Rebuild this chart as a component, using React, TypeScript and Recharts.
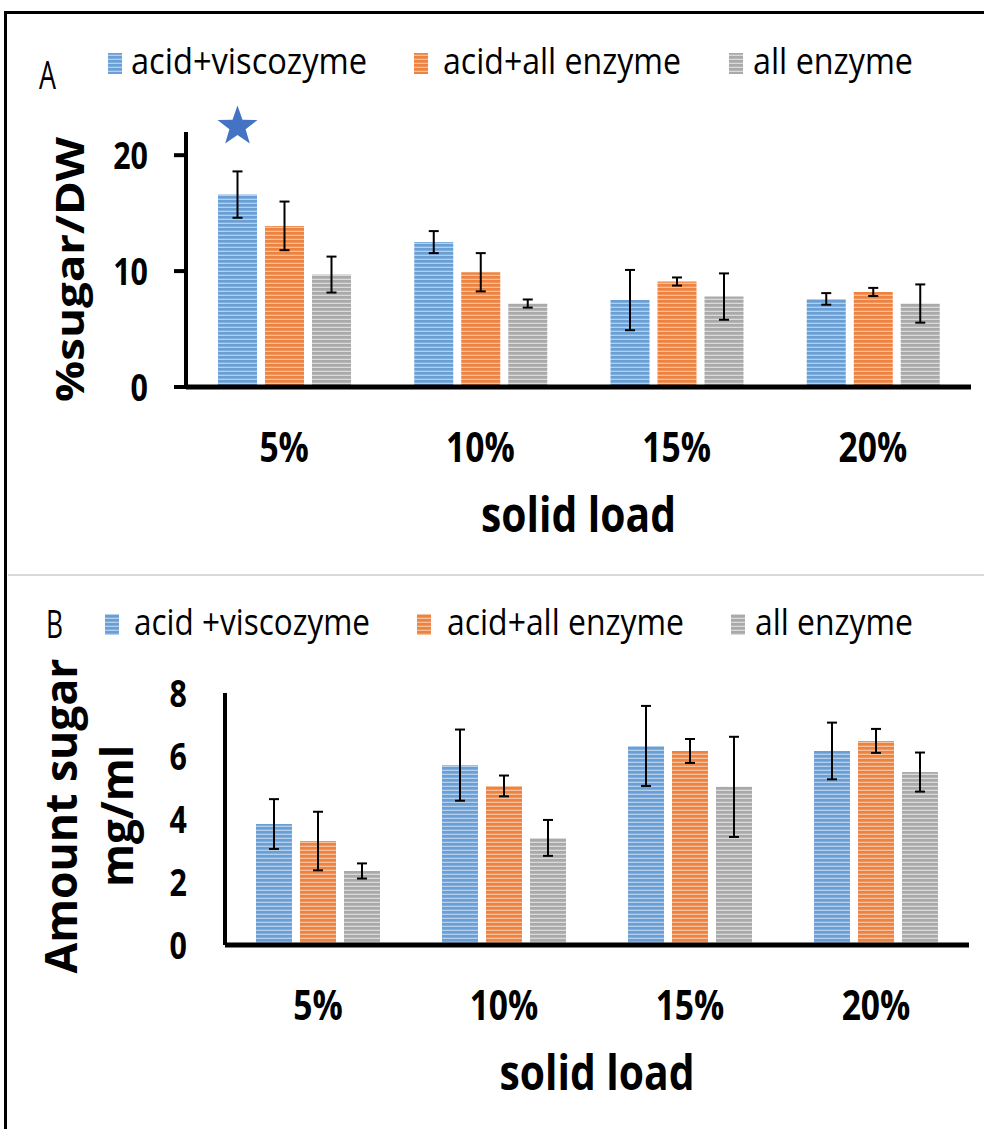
import { BarChart, Bar, XAxis, YAxis, ErrorBar, Legend, LabelList, Label } from "recharts";

const categories = ["5%", "10%", "15%", "20%"];

// panel A: % sugar / DW
const namesA = ["acid+viscozyme", "acid+all enzyme", "all enzyme"];
const viscozymeA = [16.6, 12.5, 7.5, 7.6];
const viscozymeErrA = [2.0, 0.95, 2.6, 0.5];
const acidAllA = [13.9, 9.9, 9.1, 8.2];
const acidAllErrA = [2.1, 1.65, 0.35, 0.35];
const allEnzymeA = [9.7, 7.2, 7.8, 7.2];
const allEnzymeErrA = [1.55, 0.35, 2.0, 1.65];
const starFlagsA = [1, 0, 0, 0];
const ticksA = [0, 10, 20];

// panel B: amount sugar mg/ml
const namesB = ["acid +viscozyme", "acid+all enzyme", "all enzyme"];
const viscozymeB = [3.84, 5.71, 6.32, 6.16];
const viscozymeErrB = [0.79, 1.13, 1.27, 0.9];
const acidAllB = [3.3, 5.05, 6.16, 6.48];
const acidAllErrB = [0.93, 0.33, 0.38, 0.38];
const allEnzymeB = [2.35, 3.4, 5.02, 5.49];
const allEnzymeErrB = [0.24, 0.57, 1.59, 0.62];
const ticksB = [0, 2, 4, 6, 8];

const FONT = "'Open Sans', 'DejaVu Sans', sans-serif";

const fills = [
  { id: "stripeBlue", base: "#6A9FD6", light: "#B3D1EE" },
  { id: "stripeOrange", base: "#EE8240", light: "#F7C29B" },
  { id: "stripeGray", base: "#A9A9A9", light: "#DADADA" },
];

const dataA = categories.map((c, i) => ({
  cat: c,
  s1: viscozymeA[i],
  e1: viscozymeErrA[i],
  s2: acidAllA[i],
  e2: acidAllErrA[i],
  s3: allEnzymeA[i],
  e3: allEnzymeErrA[i],
  star: starFlagsA[i],
}));

const dataB = categories.map((c, i) => ({
  cat: c,
  s1: viscozymeB[i],
  e1: viscozymeErrB[i],
  s2: acidAllB[i],
  e2: acidAllErrB[i],
  s3: allEnzymeB[i],
  e3: allEnzymeErrB[i],
}));

function XTick(props: any) {
  const { x, y, payload } = props;
  return (
    <g transform={`translate(${x},${y})`}>
      <text transform="scale(0.8,1)" textAnchor="middle" dy="0.71em" fontSize={42} fontWeight={700} fill="#000" fontFamily={FONT}>
        {payload.value}
      </text>
    </g>
  );
}

function YTick(props: any) {
  const { x, y, payload } = props;
  return (
    <g transform={`translate(${x},${y})`}>
      <text transform="scale(0.8,1)" textAnchor="end" dy="0.36em" fontSize={38} fontWeight={700} fill="#000" fontFamily={FONT}>
        {payload.value}
      </text>
    </g>
  );
}

function renderStar(props: any) {
  const { x, y, width, value } = props;
  if (!value) return null;
  const cx = Number(x) + Number(width) / 2;
  const cy = Number(y) - 68;
  const pts: string[] = [];
  for (let k = 0; k < 10; k++) {
    const r = k % 2 === 0 ? 21 : 8.5;
    const a = -Math.PI / 2 + (k * Math.PI) / 5;
    pts.push(`${cx + r * Math.cos(a)},${cy + r * Math.sin(a)}`);
  }
  return <polygon points={pts.join(" ")} fill="#4472C4" />;
}

const yTitle = (lines: { text: string; x: number; len: number; size: number }[], shift: number) => (props: any) => {
  const vb = props.viewBox || { y: 0, height: 0 };
  const cy = vb.y + vb.height / 2 + shift;
  return (
    <g>
      {lines.map((l) => (
        <text
          key={l.text}
          transform={`translate(${l.x},${cy}) rotate(-90)`}
          textAnchor="middle"
          fontSize={l.size}
          fontWeight={700}
          fontFamily={FONT}
          fill="#000"
          textLength={l.len}
          lengthAdjust="spacingAndGlyphs"
        >
          {l.text}
        </text>
      ))}
    </g>
  );
};

const xTitle = (props: any) => {
  const vb = props.viewBox || { x: 0, y: 0, width: 0 };
  return (
    <text
      x={vb.x + vb.width / 2}
      y={vb.y + 145}
      textAnchor="middle"
      fontSize={48}
      fontWeight={700}
      fontFamily={FONT}
      fill="#000"
      textLength={195}
      lengthAdjust="spacingAndGlyphs"
    >
      solid load
    </text>
  );
};

const legendRow = (
  panel: string,
  panelX: number,
  panelY: number,
  names: string[],
  markerX: number[],
  textX: number[],
  textLen: number[],
  baseline: number
) => () => (
  <svg width={984} height={110} style={{ display: "block" }}>
    <text x={panelX} y={panelY} fontSize={38} fontFamily={FONT} fill="#000" textLength={17} lengthAdjust="spacingAndGlyphs">
      {panel}
    </text>
    {names.map((n, i) => (
      <g key={n}>
        <rect x={markerX[i]} y={baseline - 21} width={14} height={21} fill={`url(#${fills[i].id})`} />
        <text
          x={textX[i]}
          y={baseline}
          fontSize={37}
          fontFamily={FONT}
          fill="#000"
          textLength={textLen[i]}
          lengthAdjust="spacingAndGlyphs"
        >
          {n}
        </text>
      </g>
    ))}
  </svg>
);

export default function App() {
  return (
    <div
      style={{
        position: "absolute",
        left: 0,
        top: 0,
        width: 984,
        height: 1129,
        overflow: "hidden",
        background: "#fff",
      }}
    >
      <svg width={0} height={0} style={{ position: "absolute" }}>
        <defs>
          {fills.map((f) => (
            <pattern key={f.id} id={f.id} width={8} height={4} patternUnits="userSpaceOnUse">
              <rect width={8} height={4} fill={f.light} />
              <rect width={8} height={2.7} fill={f.base} />
            </pattern>
          ))}
        </defs>
      </svg>

      {/* outer frame */}
      <div
        style={{
          position: "absolute",
          left: 4,
          top: 11,
          width: 1000,
          height: 1200,
          borderTop: "3px solid #000",
          borderLeft: "3px solid #000",
        }}
      />
      {/* separator */}
      <div style={{ position: "absolute", left: 8, top: 574, width: 980, height: 2, background: "#d9d9d9" }} />

      <div style={{ position: "absolute", left: 0, top: 0 }}>
        <BarChart
          width={984}
          height={575}
          data={dataA}
          margin={{ top: 132, right: 13, bottom: 38, left: 0 }}
          barSize={39}
          barGap={8}
        >
          <XAxis
            dataKey="cat"
            height={150}
            axisLine={{ stroke: "#000", strokeWidth: 5 }}
            tickLine={false}
            tickSize={0}
            tickMargin={45}
            tick={<XTick />}
          >
            <Label content={xTitle} />
          </XAxis>
          <YAxis
            width={186}
            domain={[0, 22]}
            ticks={ticksA}
            interval={0}
            axisLine={{ stroke: "#000", strokeWidth: 4 }}
            tickLine={{ stroke: "#000", strokeWidth: 4 }}
            tickSize={12}
            tickMargin={26}
            tick={<YTick />}
          >
            <Label content={yTitle([{ text: "%sugar/DW", x: 84, len: 265, size: 40 }], 10)} />
          </YAxis>
          <Legend
            layout="horizontal"
            verticalAlign="middle"
            align="center"
            wrapperStyle={{ top: 0, left: 0, width: 984 }}
            content={legendRow("A", 39, 89, namesA, [108, 414, 729], [131, 443, 753], [236, 238, 160], 74)}
          />
          <Bar dataKey="s1" name={namesA[0]} fill={`url(#${fills[0].id})`} isAnimationActive={false}>
            <ErrorBar dataKey="e1" width={5} stroke="#000" strokeWidth={2} isAnimationActive={false} />
            <LabelList dataKey="star" content={renderStar} />
          </Bar>
          <Bar dataKey="s2" name={namesA[1]} fill={`url(#${fills[1].id})`} isAnimationActive={false}>
            <ErrorBar dataKey="e2" width={5} stroke="#000" strokeWidth={2} isAnimationActive={false} />
          </Bar>
          <Bar dataKey="s3" name={namesA[2]} fill={`url(#${fills[2].id})`} isAnimationActive={false}>
            <ErrorBar dataKey="e3" width={5} stroke="#000" strokeWidth={2} isAnimationActive={false} />
          </Bar>
        </BarChart>
      </div>

      <div style={{ position: "absolute", left: 0, top: 575 }}>
        <BarChart
          width={984}
          height={554}
          data={dataB}
          margin={{ top: 118, right: 15, bottom: 34, left: 0 }}
          barSize={36}
          barGap={8}
        >
          <XAxis
            dataKey="cat"
            height={150}
            axisLine={{ stroke: "#000", strokeWidth: 5 }}
            tickLine={false}
            tickSize={0}
            tickMargin={45}
            tick={<XTick />}
          >
            <Label content={xTitle} />
          </XAxis>
          <YAxis
            width={225}
            domain={[0, 8]}
            ticks={ticksB}
            interval={0}
            axisLine={{ stroke: "#000", strokeWidth: 4 }}
            tickLine={false}
            tickSize={0}
            tickMargin={38}
            tick={<YTick />}
          >
            <Label
              content={yTitle(
                [
                  { text: "Amount sugar", x: 77, len: 315, size: 44 },
                  { text: "mg/ml", x: 133, len: 142, size: 44 },
                ],
                -3
              )}
            />
          </YAxis>
          <Legend
            layout="horizontal"
            verticalAlign="middle"
            align="center"
            wrapperStyle={{ top: 0, left: 0, width: 984 }}
            content={legendRow("B", 46, 63, namesB, [105, 417, 731], [134, 447, 755], [236, 237, 158], 60)}
          />
          <Bar dataKey="s1" name={namesB[0]} fill={`url(#${fills[0].id})`} isAnimationActive={false}>
            <ErrorBar dataKey="e1" width={5} stroke="#000" strokeWidth={2} isAnimationActive={false} />
          </Bar>
          <Bar dataKey="s2" name={namesB[1]} fill={`url(#${fills[1].id})`} isAnimationActive={false}>
            <ErrorBar dataKey="e2" width={5} stroke="#000" strokeWidth={2} isAnimationActive={false} />
          </Bar>
          <Bar dataKey="s3" name={namesB[2]} fill={`url(#${fills[2].id})`} isAnimationActive={false}>
            <ErrorBar dataKey="e3" width={5} stroke="#000" strokeWidth={2} isAnimationActive={false} />
          </Bar>
        </BarChart>
      </div>
    </div>
  );
}
